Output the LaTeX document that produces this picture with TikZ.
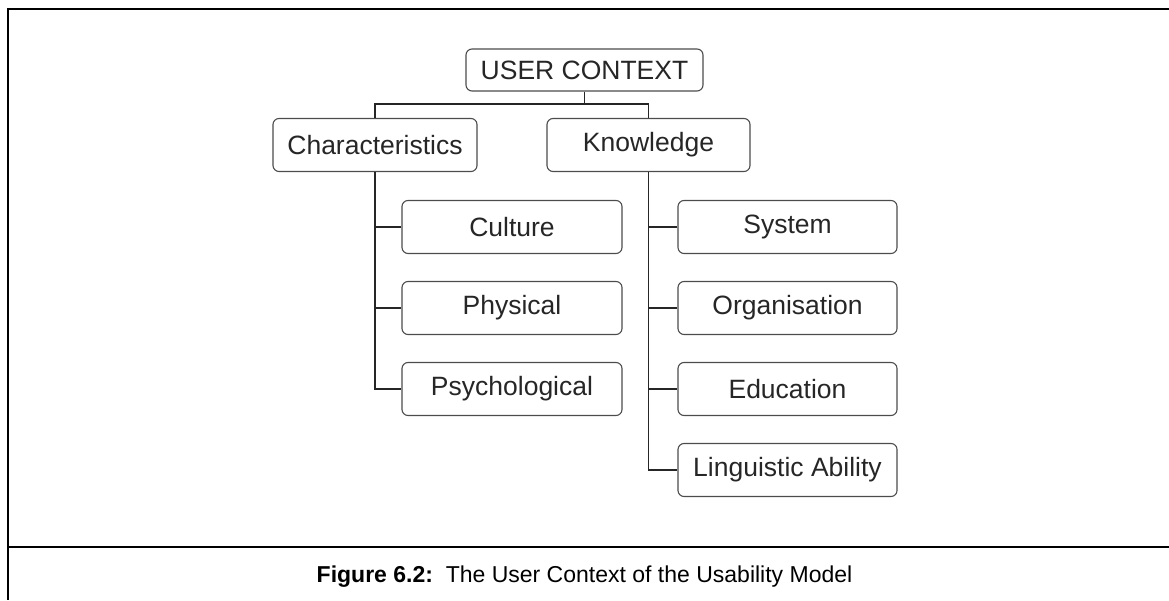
\documentclass[tikz,border=0pt]{standalone}
\usepackage{fontspec}
\setmainfont{Liberation Sans}
\usepackage{tikz}

\begin{document}
\begin{tikzpicture}[x=1pt, y=1pt,
    box/.style={draw=black!70, line width=1.1pt, rounded corners=6pt, text=black!85,
      inner sep=0pt, minimum height=53pt, font=\fontsize{26.5}{30}\selectfont},
    link/.style={draw=black!85, line width=1.2pt}]
\useasboundingbox (0,0) rectangle (1169,600);
% frame
\draw[line width=2pt] (8,0) -- (8,591) -- (1169,591);
\draw[line width=2pt] (8,53) -- (1169,53);
% tree
\node[box, minimum width=237pt, minimum height=42pt] (uc) at (584.5,530) {USER CONTEXT};
\node[box, minimum width=204pt] (chars) at (375,455) {Characteristics};
\node[box, minimum width=203pt] (know) at (648.5,455) {Knowledge};
\node[box, minimum width=220pt] (cult) at (512,373) {Culture};
\node[box, minimum width=220pt] (phys) at (512,292) {Physical};
\node[box, minimum width=220pt] (psych) at (512,211) {Psychological};
\node[box, minimum width=219pt] (sys) at (787.5,373) {System};
\node[box, minimum width=219pt] (org) at (787.5,292) {Organisation};
\node[box, minimum width=219pt] (edu) at (787.5,211) {Education};
\node[box, minimum width=219pt] (ling) at (787.5,130) {Linguistic Ability};
\coordinate (split) at (584.5,496);
\draw[link] (uc.south) -- (split);
\draw[link] (split) -| (chars.north);
\draw[link] (split) -| (know.north);
\foreach \c in {cult,phys,psych}
  \draw[link] (chars.south) |- (\c.west);
\foreach \c in {sys,org,edu,ling}
  \draw[link] (know.south) |- (\c.west);
% caption
\node[font=\fontsize{23}{28}\selectfont] (cap) at (584.5,23)
  {\textbf{Figure 6.2:}\ \ The User Context of the Usability Model};
\end{tikzpicture}
\end{document}
